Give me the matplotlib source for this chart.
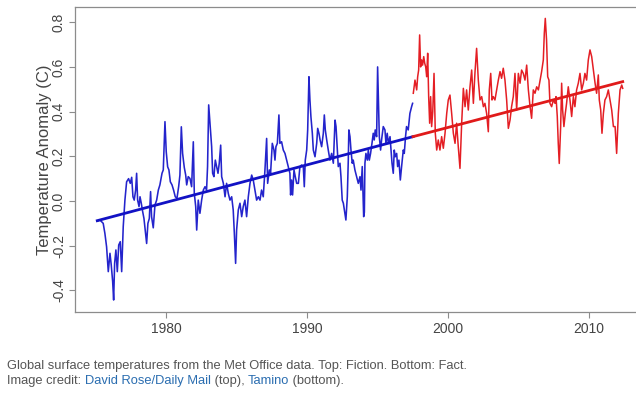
import numpy as np
import matplotlib
matplotlib.use("Agg")
import matplotlib.pyplot as plt

plt.rcParams['font.family'] = ['Liberation Sans', 'DejaVu Sans']

#Monthly anomalies, split where the colour changes
blue_years = [1975.13, 1975.32, 1975.55, 1975.67, 1975.79, 1975.91, 1976.03, 1976.12, 1976.22, 1976.29,
              1976.36, 1976.45, 1976.55, 1976.65, 1976.76, 1976.86, 1976.97, 1977.09, 1977.21, 1977.35,
              1977.47, 1977.57, 1977.66, 1977.75, 1977.85, 1977.92, 1977.99, 1978.09, 1978.16, 1978.25,
              1978.35, 1978.44, 1978.53, 1978.63, 1978.72, 1978.82, 1978.91, 1978.98, 1979.10, 1979.22,
              1979.34, 1979.46, 1979.57, 1979.72, 1979.81, 1979.93, 1980.02, 1980.12, 1980.21, 1980.31,
              1980.43, 1980.54, 1980.66, 1980.78, 1980.90, 1980.99, 1981.09, 1981.18, 1981.30, 1981.40,
              1981.47, 1981.58, 1981.70, 1981.82, 1981.94, 1982.01, 1982.11, 1982.18, 1982.29, 1982.41,
              1982.53, 1982.65, 1982.77, 1982.88, 1982.95, 1983.03, 1983.12, 1983.24, 1983.31, 1983.40,
              1983.50, 1983.59, 1983.69, 1983.78, 1983.88, 1983.95, 1984.07, 1984.19, 1984.30, 1984.42,
              1984.54, 1984.66, 1984.77, 1984.85, 1984.94, 1985.01, 1985.13, 1985.25, 1985.37, 1985.48,
              1985.60, 1985.72, 1985.84, 1985.96, 1986.08, 1986.19, 1986.31, 1986.43, 1986.55, 1986.67,
              1986.78, 1986.90, 1987.02, 1987.14, 1987.21, 1987.33, 1987.42, 1987.54, 1987.66, 1987.73,
              1987.80, 1987.90, 1988.01, 1988.08, 1988.20, 1988.32, 1988.44, 1988.56, 1988.68, 1988.79,
              1988.84, 1988.91, 1988.98, 1989.08, 1989.17, 1989.27, 1989.39, 1989.50, 1989.62, 1989.74,
              1989.81, 1989.88, 1989.98, 1990.05, 1990.14, 1990.21, 1990.28, 1990.38, 1990.45, 1990.57,
              1990.69, 1990.76, 1990.85, 1990.93, 1991.04, 1991.16, 1991.23, 1991.30, 1991.40, 1991.51,
              1991.63, 1991.75, 1991.87, 1991.99, 1992.06, 1992.15, 1992.22, 1992.34, 1992.41, 1992.50,
              1992.58, 1992.69, 1992.76, 1992.86, 1992.93, 1992.97, 1993.05, 1993.12, 1993.21, 1993.28,
              1993.40, 1993.52, 1993.64, 1993.76, 1993.83, 1993.92, 1993.97, 1994.02, 1994.07, 1994.11,
              1994.18, 1994.28, 1994.35, 1994.42, 1994.51, 1994.61, 1994.70, 1994.77, 1994.84, 1994.94,
              1995.01, 1995.08, 1995.13, 1995.22, 1995.29, 1995.41, 1995.53, 1995.60, 1995.69, 1995.77,
              1995.89, 1995.96, 1996.03, 1996.12, 1996.19, 1996.26, 1996.36, 1996.43, 1996.52, 1996.62,
              1996.71, 1996.83, 1996.90, 1996.99, 1997.06, 1997.18, 1997.30, 1997.42, 1997.49]
blue_anom = [-0.090, -0.085, -0.100, -0.145, -0.205, -0.316, -0.234, -0.286, -0.360, -0.443,
             -0.279, -0.219, -0.316, -0.197, -0.182, -0.316, -0.115, 0.004, 0.086, 0.100,
             0.079, 0.106, 0.019, 0.004, 0.049, 0.124, 0.004, -0.025, 0.019, -0.010,
             -0.048, -0.078, -0.130, -0.190, -0.100, -0.078, 0.042, -0.070, -0.120, -0.018,
             0.004, 0.049, 0.072, 0.124, 0.139, 0.355, 0.220, 0.153, 0.139, 0.086,
             0.072, 0.049, 0.019, 0.012, 0.064, 0.116, 0.332, 0.213, 0.150, 0.116,
             0.072, 0.109, 0.101, 0.064, 0.265, 0.034, -0.025, -0.130, 0.004, -0.055,
             0.004, 0.049, 0.064, 0.049, 0.154, 0.430, 0.348, 0.243, 0.124, 0.109,
             0.183, 0.154, 0.124, 0.169, 0.250, 0.109, 0.079, 0.019, 0.079, 0.034,
             0.004, 0.019, -0.040, -0.145, -0.279, -0.130, -0.040, -0.010, -0.070, -0.025,
             0.004, -0.070, 0.019, 0.079, 0.116, 0.094, 0.049, 0.004, 0.019, 0.004,
             0.049, 0.019, 0.139, 0.280, 0.079, 0.139, 0.124, 0.258, 0.228, 0.183,
             0.243, 0.258, 0.385, 0.258, 0.265, 0.228, 0.213, 0.183, 0.154, 0.124,
             0.027, 0.094, 0.027, 0.139, 0.109, 0.079, 0.079, 0.154, 0.161, 0.154,
             0.064, 0.183, 0.228, 0.318, 0.556, 0.452, 0.377, 0.303, 0.228, 0.198,
             0.258, 0.325, 0.303, 0.273, 0.243, 0.303, 0.385, 0.318, 0.273, 0.228,
             0.183, 0.213, 0.169, 0.362, 0.333, 0.228, 0.154, 0.169, 0.109, 0.004,
             -0.010, -0.055, -0.085, 0.019, 0.183, 0.318, 0.288, 0.228, 0.169, 0.183,
             0.139, 0.109, 0.079, 0.109, 0.049, 0.154, 0.050, -0.070, -0.050, 0.169,
             0.213, 0.183, 0.228, 0.183, 0.213, 0.258, 0.303, 0.273, 0.318, 0.288,
             0.600, 0.407, 0.288, 0.228, 0.273, 0.333, 0.318, 0.258, 0.303, 0.258,
             0.288, 0.228, 0.169, 0.124, 0.228, 0.198, 0.213, 0.154, 0.183, 0.094,
             0.154, 0.228, 0.213, 0.288, 0.333, 0.318, 0.392, 0.422, 0.437]

red_years = [1997.54, 1997.66, 1997.78, 1997.85, 1997.92, 1997.99, 1998.06, 1998.13, 1998.20, 1998.28,
             1998.35, 1998.42, 1998.49, 1998.56, 1998.63, 1998.70, 1998.77, 1998.84, 1998.92, 1999.01,
             1999.10, 1999.20, 1999.31, 1999.43, 1999.55, 1999.67, 1999.79, 1999.91, 2000.02, 2000.14,
             2000.26, 2000.38, 2000.50, 2000.61, 2000.73, 2000.85, 2000.97, 2001.09, 2001.21, 2001.32,
             2001.44, 2001.56, 2001.68, 2001.80, 2001.91, 2002.03, 2002.15, 2002.27, 2002.39, 2002.51,
             2002.62, 2002.74, 2002.86, 2002.93, 2003.03, 2003.12, 2003.21, 2003.33, 2003.45, 2003.57,
             2003.69, 2003.80, 2003.92, 2004.04, 2004.16, 2004.28, 2004.40, 2004.51, 2004.63, 2004.75,
             2004.87, 2004.99, 2005.11, 2005.22, 2005.34, 2005.46, 2005.58, 2005.70, 2005.82, 2005.93,
             2006.05, 2006.17, 2006.29, 2006.41, 2006.53, 2006.64, 2006.76, 2006.83, 2006.90, 2006.99,
             2007.07, 2007.16, 2007.23, 2007.35, 2007.47, 2007.59, 2007.66, 2007.75, 2007.82, 2007.89,
             2007.99, 2008.06, 2008.13, 2008.22, 2008.32, 2008.41, 2008.53, 2008.65, 2008.77, 2008.89,
             2009.00, 2009.12, 2009.24, 2009.36, 2009.48, 2009.60, 2009.71, 2009.83, 2009.95, 2010.07,
             2010.19, 2010.31, 2010.43, 2010.54, 2010.66, 2010.73, 2010.83, 2010.92, 2011.02, 2011.13,
             2011.25, 2011.37, 2011.49, 2011.61, 2011.73, 2011.85, 2011.96, 2012.08, 2012.20, 2012.32,
             2012.39]
red_anom = [0.482, 0.541, 0.497, 0.556, 0.586, 0.743, 0.600, 0.631, 0.608, 0.646,
            0.616, 0.600, 0.556, 0.661, 0.467, 0.348, 0.467, 0.333, 0.400, 0.571,
            0.303, 0.228, 0.273, 0.228, 0.288, 0.236, 0.303, 0.392, 0.452, 0.474,
            0.392, 0.303, 0.258, 0.348, 0.243, 0.146, 0.348, 0.504, 0.422, 0.497,
            0.407, 0.511, 0.586, 0.437, 0.571, 0.683, 0.541, 0.452, 0.467, 0.422,
            0.437, 0.392, 0.310, 0.497, 0.571, 0.452, 0.467, 0.452, 0.497, 0.541,
            0.579, 0.549, 0.594, 0.541, 0.452, 0.325, 0.362, 0.422, 0.467, 0.571,
            0.407, 0.571, 0.527, 0.586, 0.571, 0.541, 0.608, 0.497, 0.422, 0.370,
            0.497, 0.482, 0.511, 0.497, 0.541, 0.579, 0.631, 0.750, 0.817, 0.720,
            0.556, 0.541, 0.437, 0.422, 0.452, 0.437, 0.467, 0.378, 0.258, 0.168,
            0.333, 0.527, 0.407, 0.333, 0.392, 0.437, 0.511, 0.452, 0.378, 0.467,
            0.422, 0.497, 0.527, 0.571, 0.497, 0.527, 0.571, 0.541, 0.631, 0.676,
            0.646, 0.586, 0.527, 0.482, 0.564, 0.452, 0.407, 0.303, 0.392, 0.452,
            0.467, 0.497, 0.452, 0.407, 0.333, 0.333, 0.213, 0.392, 0.497, 0.519,
            0.504]

#Trend lines as drawn: start, break point, end (joined at the break)
trend_years = [1975.13, 1997.52, 2012.39]
trend_anom = [-0.088, 0.288, 0.534]

year_ticks = [1980, 1990, 2000, 2010]
anom_ticks = [-0.4, -0.2, 0.0, 0.2, 0.4, 0.6, 0.8]

caption_line1 = "Global surface temperatures from the Met Office data. Top: Fiction. Bottom: Fact."
caption_parts = [("Image credit: ", '#555555'), ("David Rose/Daily Mail", '#2a6db0'),
                 (" (top), ", '#555555'), ("Tamino", '#2a6db0'), (" (bottom).", '#555555')]

fig = plt.figure(figsize=(6.36, 3.98), dpi=100)
#axes box runs a little past the right edge of the picture, as in the original crop
ax = fig.add_axes([75 / 636, 86 / 398, 569 / 636, 305 / 398])

ax.plot(blue_years, blue_anom, color='#2424cc', linewidth=1.15)
ax.plot(red_years, red_anom, color='#e41e24', linewidth=1.1)
ax.plot(trend_years[:2], trend_anom[:2], color='#1212c4', linewidth=2.0)
ax.plot(trend_years[1:], trend_anom[1:], color='#e01a1a', linewidth=2.0)

ax.set_xlim(1973.55, 2013.9)
ax.set_ylim(-0.4966, 0.868)
ax.set_xticks(year_ticks)
ax.set_yticks(anom_ticks)
ax.set_yticklabels(["%.1f" % v for v in anom_ticks])

for s in ax.spines.values():
    s.set_color('#8c8c8c')
    s.set_linewidth(0.9)

ax.tick_params(axis='both', colors='#8c8c8c', labelcolor='#444444', labelsize=10, length=4.5, width=0.8, pad=3)
ax.tick_params(axis='y', labelrotation=90, pad=2)
for lab in ax.get_yticklabels():
    lab.set_va('center')

ax.set_ylabel("Temperature Anomaly (C)", fontsize=12, color='#444444', labelpad=0)

#caption under the chart, second line built from coloured pieces
fig.text(7 / 636, 1 - 366 / 398, caption_line1, fontsize=9.3, color='#555555', va='center')
prev = fig.text(7 / 636, 1 - 381 / 398, caption_parts[0][0], fontsize=9.3, color=caption_parts[0][1], va='center')
for txt, col in caption_parts[1:]:
    prev = ax.annotate(txt, xycoords=prev, xy=(1, 0.5), va='center', fontsize=9.3, color=col,
                       annotation_clip=False)

fig.savefig("out.png", dpi=100)
